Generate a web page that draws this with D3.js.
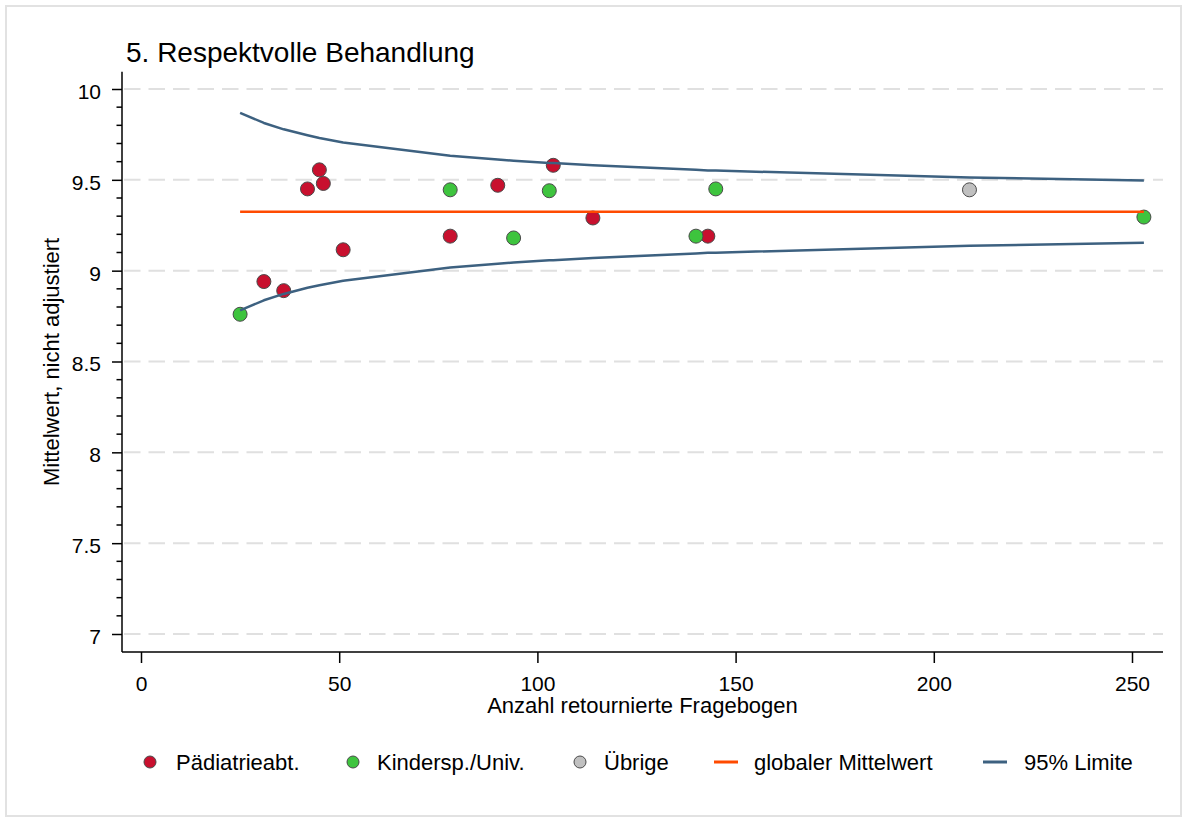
<!DOCTYPE html>
<html>
<head>
<meta charset="utf-8">
<script src="https://cdn.jsdelivr.net/npm/d3@7"></script>
<style>
  html, body { margin: 0; padding: 0; background: #fff; }
  svg { display: block; font-family: "Liberation Sans", Arial, sans-serif; }
</style>
</head>
<body>
<svg id="chart" width="1187" height="822"></svg>
<script>
// Funnel plot: mean score per unit against number of returned questionnaires
const title = "5. Respektvolle Behandlung";
const xLabel = "Anzahl retournierte Fragebogen";
const yLabel = "Mittelwert, nicht adjustiert";

const xTicks = [0, 50, 100, 150, 200, 250];
const yTicks = [7, 7.5, 8, 8.5, 9, 9.5, 10];
const yTickLabels = ["7", "7.5", "8", "8.5", "9", "9.5", "10"];

// Pädiatrieabt.
const paedN = [31, 36, 42, 45, 46, 51, 78, 90, 104, 114, 143];
const paedMean = [8.94, 8.89, 9.45, 9.555, 9.48, 9.115, 9.19, 9.47, 9.58, 9.29, 9.19];
// Kindersp./Univ.
const kinderN = [25, 78, 94, 103, 140, 145, 253];
const kinderMean = [8.76, 9.445, 9.18, 9.44, 9.19, 9.45, 9.295];
// Übrige
const uebrigeN = [209];
const uebrigeMean = [9.445];

// global mean and 95% limits at each observed sample size
const globalMean = 9.325;
const limitN = [25, 31, 36, 42, 45, 46, 51, 78, 90, 94, 103, 104, 114, 140, 143, 145, 209, 253];
const upperLimit = [9.869, 9.813, 9.778, 9.745, 9.730, 9.726, 9.706, 9.633, 9.612, 9.605, 9.593, 9.592, 9.580, 9.555, 9.552, 9.551, 9.513, 9.496];
const lowerLimit = [8.781, 8.837, 8.872, 8.906, 8.920, 8.924, 8.944, 9.017, 9.038, 9.045, 9.057, 9.058, 9.070, 9.095, 9.098, 9.099, 9.137, 9.154];

const legendLabels = ["Pädiatrieabt.", "Kindersp./Univ.", "Übrige", "globaler Mittelwert", "95% Limite"];

const colors = {
  paed: "#c8102e",
  kinder: "#3ec43e",
  uebrige: "#c0c0c0",
  mean: "#ff4a00",
  limit: "#3d6180",
  markerStroke: "#4a4a4a",
  grid: "#e0e0e0"
};

const svg = d3.select("#chart");

// outer frame
svg.append("rect")
  .attr("x", 6).attr("y", 6).attr("width", 1175).attr("height", 810)
  .attr("fill", "#fff").attr("stroke", "#e2e2e2").attr("stroke-width", 2);

const plotLeft = 122, plotRight = 1163, plotBottom = 652;
const x = d3.scaleLinear().domain([0, 250]).range([141, 1132]);
const y = d3.scaleLinear().domain([7, 10]).range([634, 89]);
const plotTop = y(10.095);

// gridlines
svg.append("g")
  .selectAll("line")
  .data(yTicks)
  .join("line")
  .attr("x1", plotLeft + 2).attr("x2", plotRight)
  .attr("y1", d => y(d)).attr("y2", d => y(d))
  .attr("stroke", colors.grid).attr("stroke-width", 2)
  .attr("stroke-dasharray", "16.5,8");

// y axis
const yAxis = d3.axisLeft(y)
  .tickValues(yTicks)
  .tickFormat((d, i) => yTickLabels[i])
  .tickSize(10)
  .tickPadding(11);
const gy = svg.append("g").attr("transform", `translate(${plotLeft},0)`).call(yAxis);
gy.select(".domain").remove();
gy.selectAll(".tick line").attr("stroke", "#000").attr("stroke-width", 1.5);
gy.selectAll(".tick text")
  .attr("font-size", 21).attr("font-family", "Liberation Sans, Arial, sans-serif")
  .attr("fill", "#000").attr("dy", "0.45em");

// y minor ticks
const yMinor = d3.range(71, 100).map(v => v / 10).filter(v => Math.round(v * 10) % 5 !== 0);
svg.append("g")
  .selectAll("line")
  .data(yMinor)
  .join("line")
  .attr("x1", plotLeft - 5.5).attr("x2", plotLeft)
  .attr("y1", d => y(d)).attr("y2", d => y(d))
  .attr("stroke", "#000").attr("stroke-width", 1.5);

// x axis
const xAxis = d3.axisBottom(x)
  .tickValues(xTicks)
  .tickFormat(d3.format("d"))
  .tickSize(11)
  .tickPadding(12.8);
const gx = svg.append("g").attr("transform", `translate(0,${plotBottom})`).call(xAxis);
gx.select(".domain").remove();
gx.selectAll(".tick line").attr("stroke", "#000").attr("stroke-width", 1.5);
gx.selectAll(".tick text")
  .attr("font-size", 21).attr("font-family", "Liberation Sans, Arial, sans-serif")
  .attr("fill", "#000");

// axis lines
svg.append("line")
  .attr("x1", plotLeft).attr("x2", plotLeft)
  .attr("y1", plotTop).attr("y2", plotBottom)
  .attr("stroke", "#000").attr("stroke-width", 1.5);
svg.append("line")
  .attr("x1", plotLeft).attr("x2", plotRight)
  .attr("y1", plotBottom).attr("y2", plotBottom)
  .attr("stroke", "#000").attr("stroke-width", 1.5);

// axis titles and chart title
svg.append("text")
  .attr("x", (plotLeft + plotRight) / 2).attr("y", 713)
  .attr("text-anchor", "middle").attr("font-size", 22).attr("fill", "#000")
  .text(xLabel);
svg.append("text")
  .attr("transform", `translate(59,${(plotTop + plotBottom) / 2}) rotate(-90)`)
  .attr("text-anchor", "middle").attr("font-size", 22).attr("fill", "#000")
  .text(yLabel);
svg.append("text")
  .attr("x", 126).attr("y", 62)
  .attr("font-size", 28).attr("fill", "#000")
  .text(title);

// scatter points per group
const groups = [
  { n: paedN, m: paedMean, fill: colors.paed },
  { n: kinderN, m: kinderMean, fill: colors.kinder },
  { n: uebrigeN, m: uebrigeMean, fill: colors.uebrige }
];
groups.forEach(g => {
  svg.append("g")
    .selectAll("circle")
    .data(g.n.map((n, i) => ({ n, m: g.m[i] })))
    .join("circle")
    .attr("cx", d => x(d.n)).attr("cy", d => y(d.m))
    .attr("r", 7)
    .attr("fill", g.fill)
    .attr("stroke", colors.markerStroke).attr("stroke-width", 1);
});

// global mean line
const nExtent = d3.extent(limitN);
svg.append("line")
  .attr("x1", x(nExtent[0])).attr("x2", x(nExtent[1]))
  .attr("y1", y(globalMean)).attr("y2", y(globalMean))
  .attr("stroke", colors.mean).attr("stroke-width", 2.5);

// 95% limit lines
const limitLine = d3.line().x(d => x(d[0])).y(d => y(d[1]));
[upperLimit, lowerLimit].forEach(vals => {
  svg.append("path")
    .datum(limitN.map((n, i) => [n, vals[i]]))
    .attr("d", limitLine)
    .attr("fill", "none")
    .attr("stroke", colors.limit).attr("stroke-width", 2.5)
    .attr("stroke-linejoin", "round");
});

// legend
const legendY = 762;
const lg = svg.append("g").attr("font-size", 22).attr("fill", "#000");
const markerItems = [
  { cx: 150, tx: 176, fill: colors.paed, label: legendLabels[0] },
  { cx: 353, tx: 377, fill: colors.kinder, label: legendLabels[1] },
  { cx: 580, tx: 604, fill: colors.uebrige, label: legendLabels[2] }
];
markerItems.forEach(it => {
  lg.append("circle")
    .attr("cx", it.cx).attr("cy", legendY).attr("r", 6)
    .attr("fill", it.fill).attr("stroke", colors.markerStroke).attr("stroke-width", 1);
  lg.append("text").attr("x", it.tx).attr("y", legendY + 8).text(it.label);
});
const lineItems = [
  { x1: 714, x2: 738, tx: 754, color: colors.mean, label: legendLabels[3] },
  { x1: 983, x2: 1007, tx: 1024, color: colors.limit, label: legendLabels[4] }
];
lineItems.forEach(it => {
  lg.append("line")
    .attr("x1", it.x1).attr("x2", it.x2)
    .attr("y1", legendY).attr("y2", legendY)
    .attr("stroke", it.color).attr("stroke-width", 3);
  lg.append("text").attr("x", it.tx).attr("y", legendY + 8).text(it.label);
});
</script>
</body>
</html>
